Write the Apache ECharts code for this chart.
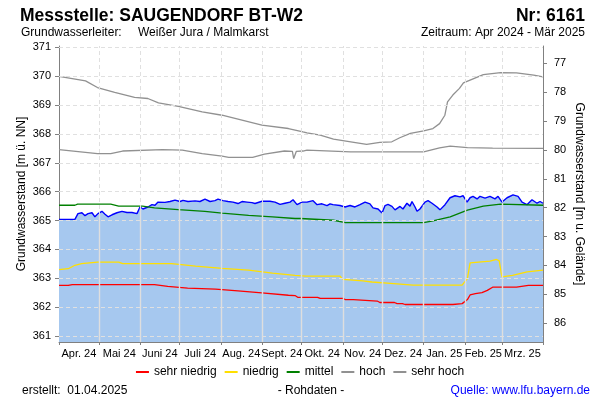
<!DOCTYPE html>
<html><head><meta charset="utf-8">
<script src="https://cdn.jsdelivr.net/npm/echarts@6/dist/echarts.min.js"></script>
<style>html,body{margin:0;padding:0;background:#fff}#c{width:600px;height:400px}</style>
</head><body><div id="c"></div>
<script>
// ---------- data (x = days since 2024-04-01) ----------
const monthLabels = ["Apr. 24","Mai 24","Juni 24","Juli 24","Aug. 24","Sept. 24","Okt. 24","Nov. 24","Dez. 24","Jan. 25","Feb. 25","Mrz. 25"];
const leftTicks = [361,362,363,364,365,366,367,368,369,370,371];
const rightTicks = [77,78,79,80,81,82,83,84,85,86];
const groundLevel = 447.445;

const levelDays = [0,12,14.3,17.3,19.6,21.9,24.9,27.1,29.4,32.4,34.7,37,40,43.7,47.5,51.3,55,58.8,61.1,63.3,67.1,70.1,72.4,74.7,79.9,83.7,87.5,91.3,93.5,97.3,102.6,106.3,110.1,113.9,117.6,119.9,123.7,127.5,131.2,135,138,141.8,145.5,147.8,153.1,159.1,162.9,166.7,170.4,174.2,176.5,179.5,183.3,187,191.6,194.6,198.3,202.1,204.4,206.6,211.9,215.7,219.5,223.2,227,230.8,234.5,236.8,240.6,243.6,245.9,248.1,251.1,253.4,257.2,259.4,262.4,264.7,266.2,268.5,270,272.2,276,278.3,281.3,285.1,287.3,291.1,294.9,298.6,302.4,304.7,307.7,310,312.2,315.3,317.5,321.3,325,328.8,331.1,334.1,337.9,342.4,346.2,349.2,352.9,356.7,360.5,362.8,365];
const levelValues = [365.04,365.04,365.24,365.27,365.17,365.24,365.27,365.13,365.24,365.32,365.22,365.13,365.2,365.27,365.32,365.28,365.28,365.24,365.47,365.4,365.47,365.55,365.53,365.64,365.63,365.66,365.71,365.66,365.7,365.66,365.68,365.66,365.74,365.66,365.69,365.74,365.69,365.66,365.64,365.59,365.66,365.64,365.62,365.59,365.67,365.67,365.64,365.56,365.6,365.64,365.72,365.55,365.64,365.64,365.69,365.55,365.58,365.52,365.58,365.55,365.52,365.47,365.52,365.47,365.55,365.64,365.58,365.44,365.4,365.26,365.52,365.56,365.49,365.37,365.49,365.4,365.6,365.5,365.66,365.47,365.32,365.4,365.64,365.69,365.6,365.47,365.37,365.55,365.79,365.86,365.82,365.86,365.64,365.79,365.84,365.75,365.84,365.78,365.84,365.75,365.84,365.64,365.79,365.89,365.84,365.64,365.55,365.72,365.6,365.66,365.6];

const sehrNiedrigDays = [0,7,10,72,82,97,118,135,153,173,178,180,195,197,214,216,222,223,240,242,253,255,259,261,297,304,306,308,310,314,319,323,327,345,354,365];
const sehrNiedrigValues = [362.75,362.75,362.78,362.78,362.72,362.66,362.62,362.56,362.49,362.41,362.40,362.34,362.34,362.30,362.30,362.26,362.26,362.21,362.21,362.16,362.16,362.12,362.12,362.09,362.09,362.12,362.19,362.26,362.42,362.47,362.50,362.58,362.69,362.69,362.75,362.75];

const niedrigDays = [0,7,12,17,29,45,48,85,103,123,143,161,178,186,212,214,229,236,250,267,304,308,310,325,330,332,334,342,353,365];
const niedrigValues = [363.30,363.33,363.45,363.51,363.56,363.56,363.51,363.51,363.42,363.34,363.28,363.18,363.10,363.07,363.07,362.96,362.91,362.87,362.82,362.76,362.76,362.99,363.53,363.59,363.65,363.60,363.05,363.10,363.22,363.28];

const mittelDays = [0,12,14,39,45,63,72,90,110,123,143,161,178,182,207,216,275,282,295,308,320,333,365];
const mittelValues = [365.53,365.53,365.57,365.57,365.5,365.5,365.44,365.38,365.32,365.26,365.18,365.13,365.07,365.07,365.01,364.93,364.93,364.99,365.13,365.36,365.5,365.57,365.53];

const hochDays = [0,29,39,48,78,93,108,123,128,146,155,170,176,177,179,184,187,220,275,287,295,308,327,365];
const hochValues = [367.46,367.32,367.32,367.41,367.46,367.44,367.32,367.23,367.19,367.19,367.3,367.41,367.4,367.15,367.4,367.41,367.44,367.38,367.38,367.52,367.58,367.53,367.51,367.5];

const sehrHochDays = [0,20,29,42,57,67,75,90,108,123,138,153,173,184,187,197,207,220,232,242,251,257,265,275,282,287,291,293,297,302,305,310,320,333,345,358,365];
const sehrHochValues = [370.0,369.84,369.61,369.44,369.27,369.23,369.08,368.96,368.77,368.65,368.48,368.31,368.19,368.07,368.04,367.96,367.82,367.73,367.64,367.71,367.73,367.87,368.02,368.11,368.19,368.36,368.65,369.11,369.35,369.58,369.77,369.87,370.06,370.13,370.12,370.04,369.98];

// ---------- helpers ----------
const pairs = (d, v) => d.map((x, i) => [x, v[i]]);
const t0 = Date.UTC(2024, 3, 1);
const monthStarts = Array.from({length: 13}, (_, i) => Math.round((Date.UTC(2024, 3 + i, 1) - t0) / 864e5));
const monthMids = monthStarts.slice(0, 12).map((s, i) => (s + monthStarts[i + 1]) / 2);
const leftMin = 360.79, leftMax = 371.05;
function levelAt(d) {
  for (let i = 1; i < levelDays.length; i++) {
    if (d <= levelDays[i]) {
      const a = levelDays[i - 1], b = levelDays[i];
      return levelValues[i - 1] + (levelValues[i] - levelValues[i - 1]) * (d - a) / (b - a);
    }
  }
  return levelValues[levelValues.length - 1];
}
const innerStarts = monthStarts.slice(1, 12);
const FF = "'Liberation Sans', Arial, sans-serif";
const axisGray = '#808080';
const gridColor = '#e0e0e0';

const chart = echarts.init(document.getElementById('c'), null, {renderer: 'canvas'});
const bandLine = (name, d, v, color, z) => ({
  name, type: 'line', data: pairs(d, v), symbol: 'none', showSymbol: false,
  lineStyle: {color, width: 1.3}, itemStyle: {color}, z, silent: true
});

chart.setOption({
  animation: false,
  textStyle: {fontFamily: FF},
  grid: {left: 59, right: 57, top: 46, bottom: 58},
  legend: {
    data: ['sehr niedrig', 'niedrig', 'mittel', 'hoch', 'sehr hoch'],
    top: 366, left: 'center', icon: 'rect', itemWidth: 13, itemHeight: 2, itemGap: 8,
    padding: 0, textStyle: {fontSize: 12, color: '#000', fontFamily: FF}
  },
  xAxis: {
    type: 'value', min: 0, max: 365,
    axisLine: {show: true, lineStyle: {color: axisGray}},
    axisTick: {show: true, customValues: monthStarts, length: 3, lineStyle: {color: axisGray}},
    axisLabel: {customValues: monthMids, fontSize: 11, color: '#000', margin: 6,
      formatter: (v) => monthLabels[monthMids.indexOf(v)] || ''},
    splitLine: {show: false}
  },
  yAxis: [{
    type: 'value', min: leftMin, max: leftMax,
    name: 'Grundwasserstand [m ü. NN]', nameLocation: 'middle', nameGap: 31, nameMoveOverlap: false,
    nameTextStyle: {fontSize: 12, color: '#000'},
    axisLine: {show: true, lineStyle: {color: axisGray}},
    axisTick: {show: true, customValues: leftTicks, length: 4, lineStyle: {color: axisGray}},
    axisLabel: {customValues: leftTicks, fontSize: 11, color: '#000', margin: 8},
    splitLine: {show: false}
  }, {
    type: 'value', position: 'right', inverse: true,
    min: groundLevel - leftMax, max: groundLevel - leftMin,
    name: 'Grundwasserstand [m u. Gelände]', nameLocation: 'middle', nameGap: 30, nameRotate: -90, nameMoveOverlap: false,
    nameTextStyle: {fontSize: 12, color: '#000'},
    axisLine: {show: true, lineStyle: {color: axisGray}},
    axisTick: {show: true, customValues: rightTicks, length: 4, lineStyle: {color: axisGray}},
    axisLabel: {customValues: rightTicks, fontSize: 11, color: '#000', margin: 11},
    splitLine: {show: false}
  }],
  series: [
    { // background dashed grid
      name: 'grid', type: 'line', data: pairs(levelDays, levelValues), symbol: 'none',
      lineStyle: {opacity: 0}, z: 1, silent: true,
      markLine: {
        silent: true, symbol: ['none', 'none'], label: {show: false}, animation: false,
        lineStyle: {color: gridColor, type: [4, 3], width: 1},
        emphasis: {disabled: true},
        data: leftTicks.map(v => ({yAxis: v})).concat(innerStarts.map(d => ({xAxis: d})))
      }
    },
    { // water level
      name: 'Grundwasserstand', type: 'line', data: pairs(levelDays, levelValues), symbol: 'none',
      lineStyle: {color: '#0000ff', width: 1.4}, itemStyle: {color: '#0000ff'},
      areaStyle: {color: '#a6c8ef', opacity: 1, origin: 'start'}, z: 2, silent: true
    },
    { // solid grid over fill
      name: 'grid2', type: 'line', data: [], symbol: 'none', z: 3, silent: true,
      markLine: {
        silent: true, symbol: ['none', 'none'], label: {show: false}, animation: false,
        lineStyle: {color: '#dedede', type: 'solid', width: 1.4},
        emphasis: {disabled: true},
        data: innerStarts.map(d => [{coord: [d, leftMin]}, {coord: [d, levelAt(d) - 0.03]}])
      }
    },
    bandLine('sehr niedrig', sehrNiedrigDays, sehrNiedrigValues, '#ff0000', 4),
    bandLine('niedrig', niedrigDays, niedrigValues, '#ffdf00', 4),
    bandLine('mittel', mittelDays, mittelValues, '#008000', 4),
    bandLine('hoch', hochDays, hochValues, '#919191', 4),
    bandLine('sehr hoch', sehrHochDays, sehrHochValues, '#919191', 4)
  ],
  graphic: [
    {type: 'text', x: 20, y: 16, style: {text: 'Messstelle: SAUGENDORF BT-W2', font: 'bold 17.5px ' + FF, fill: '#000', align: 'left', verticalAlign: 'middle'}},
    {type: 'text', x: 585, y: 16, style: {text: 'Nr: 6161', font: 'bold 17.5px ' + FF, fill: '#000', align: 'right', verticalAlign: 'middle'}},
    {type: 'text', x: 21, y: 33, style: {text: 'Grundwasserleiter:', font: '12px ' + FF, fill: '#000', align: 'left', verticalAlign: 'middle'}},
    {type: 'text', x: 138, y: 33, style: {text: 'Weißer Jura / Malmkarst', font: '12px ' + FF, fill: '#000', align: 'left', verticalAlign: 'middle'}},
    {type: 'text', x: 585, y: 33, style: {text: 'Zeitraum: Apr 2024 - Mär 2025', font: '12px ' + FF, fill: '#000', align: 'right', verticalAlign: 'middle'}},
    {type: 'text', x: 22, y: 391, style: {text: 'erstellt:  01.04.2025', font: '12px ' + FF, fill: '#000', align: 'left', verticalAlign: 'middle'}},
    {type: 'text', x: 311, y: 391, style: {text: '- Rohdaten -', font: '12px ' + FF, fill: '#000', align: 'center', verticalAlign: 'middle'}},
    {type: 'text', x: 590, y: 391, style: {text: 'Quelle: www.lfu.bayern.de', font: '12px ' + FF, fill: '#0000ff', align: 'right', verticalAlign: 'middle'}}
  ]
});
</script></body></html>
